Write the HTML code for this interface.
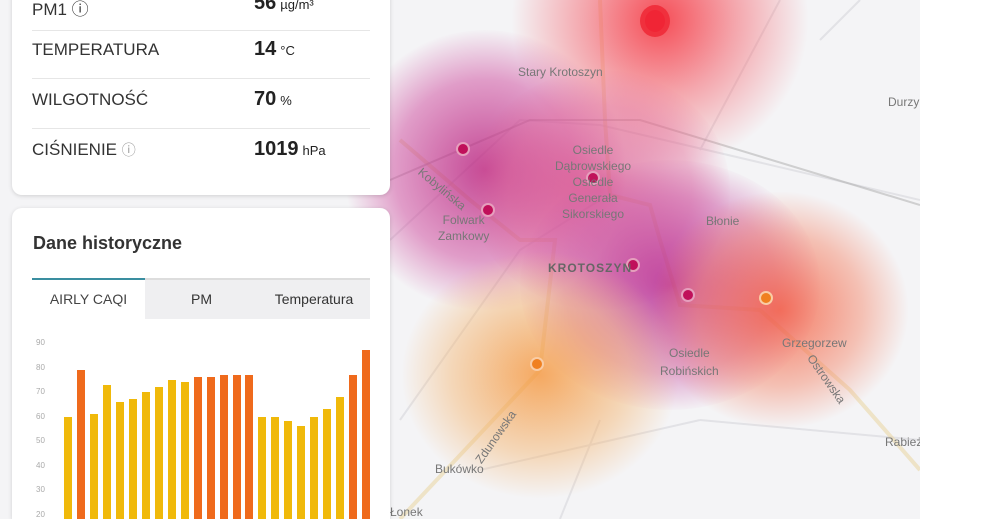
<!DOCTYPE html>
<html style="overflow:hidden;height:519px"><head><meta charset="utf-8"><style>
html,body{margin:0;width:1000px;height:519px;overflow:hidden}
body{background:#fff;font-family:"Liberation Sans",sans-serif;position:relative}
#map{position:absolute;left:0;top:0;width:920px;height:519px;background:#f4f4f6;overflow:hidden}
.blob{position:absolute;border-radius:50%}
.dot{position:absolute;width:14px;height:14px;border-radius:50%;border:2px solid rgba(255,255,255,.6);box-sizing:border-box}
.lbl{position:absolute;font-size:12px;color:#777;text-align:center}
.card{position:absolute;left:12px;width:378px;background:#fff;border-radius:10px;box-shadow:0 1px 4px rgba(0,0,0,.15);overflow:hidden}
.row{position:absolute;left:20px;right:20px;height:50px;border-bottom:1px solid #e6e6e6;font-size:17px;color:#333}
.row .k{position:absolute;left:0;top:12px}
.row .v{position:absolute;left:222px;top:10px;font-size:20px;font-weight:bold;color:#222}
.row .v small{font-size:13px;font-weight:normal;margin-left:4px}
.tk{position:absolute;left:36px;font-size:8px;color:#aaa}
</style></head><body>
<div id="map">
<svg width="920" height="519" style="position:absolute;left:0;top:0">
<g fill="none" stroke="#e2e2e6" stroke-width="2">
<path d="M390 240 L520 120 L600 125 L920 200"/>
<path d="M400 420 L520 250 L600 200"/>
<path d="M700 150 L780 0"/>
<path d="M820 40 L860 0"/>
<path d="M700 420 L920 440"/>
<path d="M560 519 L600 420"/>
<path d="M480 470 L700 420"/>
</g>
<path d="M600 0 L605 120 L610 195 L630 200 L650 205 L660 240 L680 305 L760 310 L850 390 L920 470" fill="none" stroke="#ead7a8" stroke-width="4" opacity=".6"/>
<path d="M400 519 L540 370 L555 240 L520 240 L470 200 L400 140" fill="none" stroke="#ead7a8" stroke-width="4" opacity=".6"/>
<path d="M390 180 L530 120 L640 120 L920 205" fill="none" stroke="#aaa" stroke-width="2" opacity=".5"/>
</svg>
<div class="blob" style="left:510px;top:-130px;width:300px;height:300px;background:radial-gradient(circle,rgba(245,60,70,.9) 0%,rgba(245,100,110,.55) 35%,rgba(245,130,140,0) 70%)"></div>
<div class="blob" style="left:340px;top:30px;width:290px;height:280px;background:radial-gradient(circle,rgba(185,30,125,.8) 0%,rgba(205,70,155,.5) 45%,rgba(220,120,180,0) 70%)"></div>
<div class="blob" style="left:470px;top:70px;width:260px;height:240px;background:radial-gradient(ellipse,rgba(215,60,125,.65) 0%,rgba(225,100,150,.4) 50%,rgba(230,140,170,0) 72%)"></div>
<div class="blob" style="left:520px;top:160px;width:300px;height:250px;background:radial-gradient(ellipse,rgba(180,30,140,.8) 0%,rgba(200,80,165,.45) 50%,rgba(215,130,190,0) 72%)"></div>
<div class="blob" style="left:650px;top:190px;width:260px;height:240px;background:radial-gradient(ellipse,rgba(245,90,60,.8) 0%,rgba(245,130,100,.45) 45%,rgba(245,160,140,0) 70%)"></div>
<div class="blob" style="left:400px;top:250px;width:280px;height:250px;background:radial-gradient(ellipse,rgba(245,150,60,.8) 0%,rgba(245,180,110,.45) 45%,rgba(250,200,150,0) 70%)"></div>
<div class="dot" style="left:640px;top:5px;width:30px;height:32px;background:#f02535;border:5px solid rgba(240,60,70,.5)"></div>
<div class="dot" style="left:456px;top:142px;background:#c0105a"></div>
<div class="dot" style="left:586px;top:171px;background:#c0105a"></div>
<div class="dot" style="left:481px;top:203px;background:#c0105a"></div>
<div class="dot" style="left:626px;top:258px;background:#c0105a"></div>
<div class="dot" style="left:681px;top:288px;background:#c0105a"></div>
<div class="dot" style="left:759px;top:291px;background:#f08020"></div>
<div class="dot" style="left:530px;top:357px;background:#f08020"></div>
<div class="lbl" style="left:518px;top:65px">Stary Krotoszyn</div>
<div class="lbl" style="left:555px;top:142px;line-height:16px">Osiedle<br>Dąbrowskiego<br>Osiedle<br>Generała<br>Sikorskiego</div>
<div class="lbl" style="left:438px;top:212px;line-height:16px">Folwark<br>Zamkowy</div>
<div class="lbl" style="left:706px;top:214px">Błonie</div>
<div class="lbl" style="left:548px;top:261px;font-weight:bold;color:#666;letter-spacing:1px">KROTOSZYN</div>
<div class="lbl" style="left:660px;top:344px;line-height:18px">Osiedle<br>Robińskich</div>
<div class="lbl" style="left:782px;top:336px">Grzegorzew</div>
<div class="lbl" style="left:888px;top:95px">Durzy</div>
<div class="lbl" style="left:885px;top:435px">Rabież</div>
<div class="lbl" style="left:435px;top:462px">Bukówko</div>
<div class="lbl" style="left:390px;top:505px">Łonek</div>
<div class="lbl" style="left:413px;top:182px;transform:rotate(40deg)">Kobylińska</div>
<div class="lbl" style="left:798px;top:372px;transform:rotate(55deg)">Ostrowska</div>
<div class="lbl" style="left:465px;top:430px;transform:rotate(-55deg)">Zdunowska</div>
</div>
<div class="card" style="top:-20px;height:215px">
<div class="row" style="top:0"><span class="k" style="top:15px">PM1 ⓘ</span><span class="v" style="top:12px">56<small>µg/m³</small></span></div>
<div class="row" style="top:48px"><span class="k">TEMPERATURA</span><span class="v">14<small>°C</small></span></div>
<div class="row" style="top:98px"><span class="k">WILGOTNOŚĆ</span><span class="v">70<small>%</small></span></div>
<div class="row" style="top:148px;border:none"><span class="k">CIŚNIENIE <span style="color:#999;font-size:14px">ⓘ</span></span><span class="v">1019<small>hPa</small></span></div>
</div>
<div class="card" style="top:208px;height:311px;border-radius:10px 10px 0 0">
<div style="position:absolute;left:21px;top:25px;font-size:18px;font-weight:bold;color:#333">Dane historyczne</div>
<div style="position:absolute;left:20px;top:70px;width:338px;height:39px;background:#efeff1;border-top:2px solid #ddd"></div>
<div style="position:absolute;left:20px;top:70px;width:113px;height:41px;background:#fff;border-top:2px solid #3a8ea0"></div>
<div style="position:absolute;left:20px;top:83px;width:113px;text-align:center;font-size:14px;color:#444">AIRLY CAQI</div>
<div style="position:absolute;left:133px;top:83px;width:113px;text-align:center;font-size:14px;color:#333">PM</div>
<div style="position:absolute;left:246px;top:83px;width:112px;text-align:center;font-size:14px;color:#333">Temperatura</div>
</div>
<div id="bars" style="position:absolute;left:0;top:0;width:400px;height:519px;overflow:hidden"></div>
<script>
var v=[60,79,61,73,66,67,70,72,75,74,76,76,77,77,77,60,60,58,56,60,63,68,77,87];
var o=[0,1,0,0,0,0,0,0,0,0,1,1,1,1,1,0,0,0,0,0,0,0,1,1];
var h='';
for(var i=0;i<24;i++){var y=343+(90-v[i])*2.45;h+='<div style="position:absolute;left:'+(64+i*12.96).toFixed(1)+'px;top:'+y.toFixed(1)+'px;width:8px;height:'+(519-y).toFixed(1)+'px;background:'+(o[i]?'#ef6a1c':'#f0b90a')+'"></div>';}
for(var t=90;t>=20;t-=10){var y=343+(90-t)*2.45;h+='<div class="tk" style="top:'+(y-5)+'px">'+t+'</div>';}
document.getElementById('bars').innerHTML=h;
</script>
</body></html>
